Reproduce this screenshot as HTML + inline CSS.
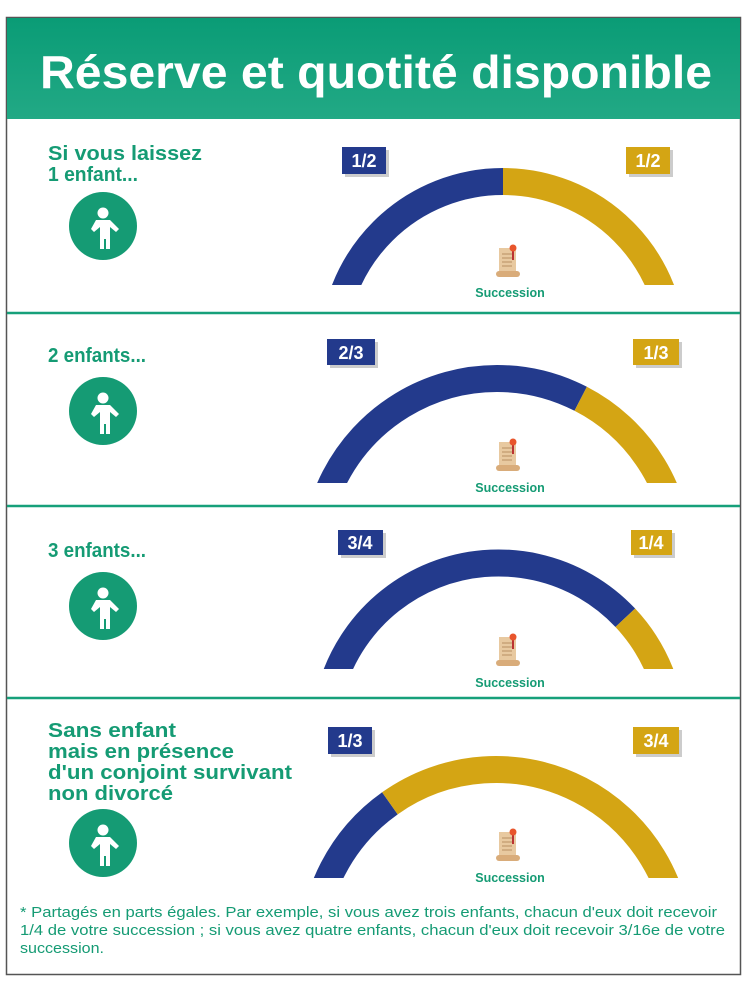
<!DOCTYPE html>
<html><head><meta charset="utf-8"><style>
html,body{margin:0;padding:0;background:#fff}
svg{display:block}
text{font-family:"Liberation Sans",sans-serif}
</style></head><body>
<svg width="747" height="984" viewBox="0 0 747 984" xmlns="http://www.w3.org/2000/svg">
<defs>
<linearGradient id="hg" x1="0" y1="0" x2="0" y2="1"><stop offset="0" stop-color="#0a9c76"/><stop offset="1" stop-color="#22a985"/></linearGradient>
<clipPath id="c1"><rect x="0" y="0" width="747" height="285"/></clipPath>
<clipPath id="c2"><rect x="0" y="0" width="747" height="483"/></clipPath>
<clipPath id="c3"><rect x="0" y="0" width="747" height="669"/></clipPath>
<clipPath id="c4"><rect x="0" y="0" width="747" height="878"/></clipPath>
<g id="kid" fill="#fff">
<circle cx="0" cy="-16" r="5.5"/>
<path d="M-7,-9 h14 l9,9 -3,3 -6,-5 v22 h-4 v-10 h-2 v10 h-4 v-22 l-6,5 -3,-3z"/>
</g>
<g id="scroll">
<rect x="-9" y="-14" width="17" height="26" fill="#e8c9a0"/>
<rect x="-12" y="9" width="24" height="6" rx="3" fill="#d9ac7a"/>
<g stroke="#b98f62" stroke-width="1"><line x1="-6" y1="-8" x2="4" y2="-8"/><line x1="-6" y1="-4" x2="4" y2="-4"/><line x1="-6" y1="0" x2="4" y2="0"/><line x1="-6" y1="4" x2="4" y2="4"/></g>
<rect x="4" y="-12" width="2" height="10" fill="#b33"/>
<circle cx="5" cy="-14" r="3.5" fill="#e8552c"/>
</g>
</defs>
<rect x="6.5" y="17.5" width="734" height="957" fill="#fff" stroke="#555" stroke-width="1.5"/>
<rect x="7" y="18" width="733" height="101" fill="url(#hg)"/>
<text x="40" y="88" font-size="46" font-weight="bold" fill="#fff" textLength="672" lengthAdjust="spacingAndGlyphs">Réserve et quotité disponible</text>
<g stroke="#17a07a" stroke-width="2.5">
<line x1="7" y1="313" x2="740" y2="313"/><line x1="7" y1="506" x2="740" y2="506"/><line x1="7" y1="698" x2="740" y2="698"/>
</g>
<g font-weight="bold" font-size="20" fill="#159b74">
<text x="48" y="160" textLength="154" lengthAdjust="spacingAndGlyphs">Si vous laissez</text><text x="48" y="181" textLength="90" lengthAdjust="spacingAndGlyphs">1 enfant...</text>
<text x="48" y="362" textLength="98" lengthAdjust="spacingAndGlyphs">2 enfants...</text>
<text x="48" y="557" textLength="98" lengthAdjust="spacingAndGlyphs">3 enfants...</text>
<text x="48" y="737" textLength="128" lengthAdjust="spacingAndGlyphs">Sans enfant</text><text x="48" y="758" textLength="186" lengthAdjust="spacingAndGlyphs">mais en présence</text><text x="48" y="779" textLength="244" lengthAdjust="spacingAndGlyphs">d'un conjoint survivant</text><text x="48" y="800" textLength="125" lengthAdjust="spacingAndGlyphs">non divorcé</text>
</g>
<g fill="#159b74">
<circle cx="103" cy="226" r="34"/><circle cx="103" cy="411" r="34"/><circle cx="103" cy="606" r="34"/><circle cx="103" cy="843" r="34"/>
</g>
<use href="#kid" x="103" y="229"/><use href="#kid" x="103" y="414"/><use href="#kid" x="103" y="609"/><use href="#kid" x="103" y="846"/>
<g fill="none" stroke-width="27">
<g clip-path="url(#c1)"><path d="M333,351.5 A170,170 0 0 1 503,181.5" stroke="#233a8c"/><path d="M503,181.5 A170,170 0 0 1 673,351.5" stroke="#d4a514"/></g>
<g clip-path="url(#c2)"><path d="M314.5,561 A182.5,182.5 0 0 1 580.7,398.8" stroke="#233a8c"/><path d="M580.7,398.8 A182.5,182.5 0 0 1 679.5,561" stroke="#d4a514"/></g>
<g clip-path="url(#c3)"><path d="M324.5,737 A174,174 0 0 1 625.3,617.8" stroke="#233a8c"/><path d="M625.3,617.8 A174,174 0 0 1 672.5,737" stroke="#d4a514"/></g>
<g clip-path="url(#c4)"><path d="M312.5,953 A183.5,183.5 0 0 1 389.9,803.3" stroke="#233a8c"/><path d="M389.9,803.3 A183.5,183.5 0 0 1 679.5,953" stroke="#d4a514"/></g>
</g>
<g font-weight="bold" font-size="18" fill="#fff" text-anchor="middle">
<rect x="345" y="150" width="44" height="27" fill="#999" opacity=".5"/><rect x="342" y="147" width="44" height="27" fill="#233a8c"/><text x="364" y="167">1/2</text>
<rect x="629" y="150" width="44" height="27" fill="#999" opacity=".5"/><rect x="626" y="147" width="44" height="27" fill="#d4a514"/><text x="648" y="167">1/2</text>
<rect x="330" y="342" width="48" height="26" fill="#999" opacity=".5"/><rect x="327" y="339" width="48" height="26" fill="#233a8c"/><text x="351" y="359">2/3</text>
<rect x="636" y="342" width="46" height="26" fill="#999" opacity=".5"/><rect x="633" y="339" width="46" height="26" fill="#d4a514"/><text x="656" y="359">1/3</text>
<rect x="341" y="533" width="45" height="25" fill="#999" opacity=".5"/><rect x="338" y="530" width="45" height="25" fill="#233a8c"/><text x="360" y="549">3/4</text>
<rect x="634" y="533" width="41" height="25" fill="#999" opacity=".5"/><rect x="631" y="530" width="41" height="25" fill="#d4a514"/><text x="651" y="549">1/4</text>
<rect x="331" y="730" width="44" height="27" fill="#999" opacity=".5"/><rect x="328" y="727" width="44" height="27" fill="#233a8c"/><text x="350" y="747">1/3</text>
<rect x="636" y="730" width="46" height="27" fill="#999" opacity=".5"/><rect x="633" y="727" width="46" height="27" fill="#d4a514"/><text x="656" y="747">3/4</text>
</g>
<use href="#scroll" x="508" y="262"/><use href="#scroll" x="508" y="456"/><use href="#scroll" x="508" y="651"/><use href="#scroll" x="508" y="846"/>
<g font-weight="bold" font-size="12.5" fill="#159b74" text-anchor="middle">
<text x="510" y="297">Succession</text><text x="510" y="492">Succession</text><text x="510" y="687">Succession</text><text x="510" y="882">Succession</text>
</g>
<g font-size="14.5" fill="#159b74">
<text x="20" y="917" textLength="697" lengthAdjust="spacingAndGlyphs">* Partagés en parts égales. Par exemple, si vous avez trois enfants, chacun d'eux doit recevoir</text>
<text x="20" y="935" textLength="705" lengthAdjust="spacingAndGlyphs">1/4 de votre succession ; si vous avez quatre enfants, chacun d'eux doit recevoir 3/16e de votre</text>
<text x="20" y="953" textLength="84" lengthAdjust="spacingAndGlyphs">succession.</text>
</g>
</svg>
</body></html>
